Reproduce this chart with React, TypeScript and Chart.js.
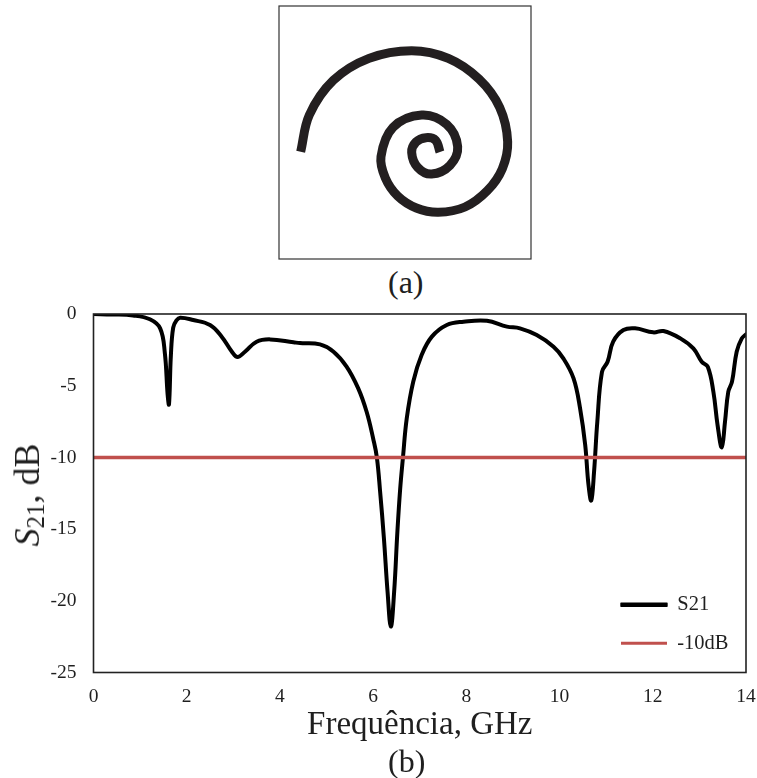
import React, { useEffect, useRef } from "react";
import { Chart, registerables } from "chart.js";

Chart.register(...registerables);

const SERIF = "'Liberation Serif', serif";
const INK = "#1f1f1f";

// Panel (b): S21 response
const frequencyGHz = [0, 0.4, 0.85, 1.21, 1.43, 1.53, 1.59, 1.62, 1.66, 1.71, 1.78, 1.86, 2.14, 2.5, 2.75, 2.97, 3.09, 3.25, 3.5, 3.79, 4.29, 4.43, 4.86, 5.15, 5.43, 5.68, 5.86, 6.0, 6.08, 6.15, 6.23, 6.31, 6.38, 6.45, 6.52, 6.58, 6.64, 6.72, 6.86, 7.04, 7.26, 7.58, 7.94, 8.44, 8.87, 9.15, 9.51, 9.87, 10.08, 10.3, 10.44, 10.55, 10.62, 10.68, 10.74, 10.81, 10.91, 11.03, 11.15, 11.37, 11.62, 12.01, 12.23, 12.59, 12.87, 13.05, 13.18, 13.3, 13.39, 13.48, 13.55, 13.62, 13.7, 13.8, 13.91, 14];
const s21dB = [0, -0.03, -0.1, -0.37, -1.0, -2.7, -5.6, -6.3, -2.9, -0.95, -0.45, -0.26, -0.42, -0.77, -1.58, -2.63, -3.0, -2.63, -1.93, -1.77, -1.97, -2.03, -2.12, -2.63, -3.67, -5.19, -6.82, -8.68, -10.0, -12.4, -15.6, -19.4, -21.8, -19.4, -15.2, -12.2, -10.0, -7.3, -4.72, -2.86, -1.58, -0.77, -0.54, -0.47, -0.88, -1.0, -1.47, -2.28, -3.09, -4.49, -6.58, -9.14, -11.9, -13.0, -11.0, -7.5, -4.03, -3.33, -1.93, -1.12, -1.0, -1.28, -1.19, -1.7, -2.4, -3.33, -3.68, -5.42, -7.75, -9.3, -7.5, -5.42, -4.72, -2.63, -1.7, -1.42];
const limitFrequencyGHz = [0, 14];
const limitdB = [-10, -10];
const xTicks = [0, 2, 4, 6, 8, 10, 12, 14];
const yTicks = [0, -5, -10, -15, -20, -25];

// Panel (a): spiral outline, read as picture units
const spiralX = [92, 118, 190, 297, 425, 535, 627, 689, 713, 697, 652, 585, 505, 439, 383, 346, 333, 369, 455, 530, 563, 540, 485, 443, 425, 438, 468, 497, 510];
const spiralY = [455, 345, 241, 175, 152, 175, 237, 322, 425, 506, 572, 621, 637, 624, 588, 534, 470, 382, 345, 373, 440, 496, 522, 502, 457, 426, 413, 421, 456];

const zip = (xs: number[], ys: number[]) => xs.map((x, i) => ({ x, y: ys[i] }));

const framePlugin = {
  id: "frame",
  afterDatasetsDraw(chart: any, _a: any, opts: any) {
    const { left, top, width, height } = chart.chartArea;
    const c = chart.ctx;
    c.save();
    c.strokeStyle = opts.color;
    c.lineWidth = opts.width;
    c.strokeRect(left, top, width, height);
    c.restore();
  },
};

const legendPlacement = {
  id: "legendPlacement",
  afterLayout(chart: any, _a: any, opts: any) {
    const lg = chart.legend;
    lg.left = opts.x;
    lg.top = opts.y;
    lg.right = chart.width;
    lg.bottom = chart.height;
  },
};

const label = (s: React.CSSProperties): React.CSSProperties => ({
  position: "absolute",
  fontFamily: SERIF,
  color: INK,
  whiteSpace: "nowrap",
  lineHeight: 1,
  ...s,
});

export default function App() {
  const spiralRef = useRef<HTMLCanvasElement>(null);
  const plotRef = useRef<HTMLCanvasElement>(null);

  useEffect(() => {
    const spiral = new Chart(spiralRef.current!, {
      type: "scatter",
      data: {
        datasets: [
          {
            data: zip(spiralX, spiralY),
            showLine: true,
            borderColor: "#231f20",
            borderWidth: 9,
            tension: 0.36,
            pointRadius: 0,
            borderCapStyle: "butt",
            borderJoinStyle: "round",
          } as any,
        ],
      },
      options: {
        animation: false,
        responsive: false,
        layout: { padding: 1 },
        plugins: { legend: { display: false }, tooltip: { enabled: false }, frame: { color: "#333", width: 1.2 } } as any,
        scales: {
          x: { type: "linear", display: false, min: 27, max: 783 },
          y: { type: "linear", display: false, min: 18, max: 777, reverse: true },
        },
      },
      plugins: [framePlugin],
    });

    const plot = new Chart(plotRef.current!, {
      type: "scatter",
      data: {
        datasets: [
          {
            label: "S21",
            data: zip(frequencyGHz, s21dB),
            showLine: true,
            borderColor: "#000000",
            backgroundColor: "#000000",
            borderWidth: 4,
            pointRadius: 0,
            tension: 0.4,
            borderCapStyle: "round",
            borderJoinStyle: "round",
            order: 2,
          } as any,
          {
            label: "-10dB",
            data: zip(limitFrequencyGHz, limitdB),
            showLine: true,
            borderColor: "#c0504d",
            backgroundColor: "#c0504d",
            borderWidth: 3.5,
            pointRadius: 0,
            order: 1,
          } as any,
        ],
      },
      options: {
        animation: false,
        responsive: false,
        layout: { padding: { top: 19, right: 11, bottom: 33, left: 0 } },
        plugins: {
          tooltip: { enabled: false },
          frame: { color: "#222", width: 1.6 },
          legendPlacement: { x: 603, y: 281.5 },
          legend: {
            position: "chartArea",
            align: "start",
            labels: {
              boxWidth: 46,
              boxHeight: 3,
              padding: 18,
              color: INK,
              font: { family: SERIF, size: 20.5 },
              sort: (a: any, b: any) => a.datasetIndex - b.datasetIndex,
              generateLabels: (c: any) =>
                Chart.defaults.plugins.legend.labels.generateLabels(c).map((it: any) => ({
                  ...it,
                  lineWidth: it.datasetIndex === 0 ? 1.4 : 0,
                })),
            },
          },
        } as any,
        scales: {
          x: {
            type: "linear",
            min: 0,
            max: 14,
            afterBuildTicks: (s: any) => {
              s.ticks = xTicks.map((value) => ({ value }));
            },
            afterFit: (s: any) => {
              s.height = 72.5;
              s.paddingLeft = 0;
              s.paddingRight = 0;
            },
            grid: { display: false, drawTicks: false },
            border: { display: false },
            ticks: { color: INK, padding: 13, maxRotation: 0, font: { family: SERIF, size: 19.5 } },
            title: {
              display: true,
              text: "Frequência, GHz",
              color: INK,
              font: { family: SERIF, size: 33 },
              padding: { top: 0, bottom: 0 },
            },
          },
          y: {
            type: "linear",
            min: -25,
            max: 0,
            afterBuildTicks: (s: any) => {
              s.ticks = yTicks.map((value) => ({ value }));
            },
            afterFit: (s: any) => {
              s.width = 93.5;
              s.paddingTop = 0;
              s.paddingBottom = 0;
            },
            grid: { display: false, drawTicks: false },
            border: { display: false },
            ticks: { color: INK, padding: 17, font: { family: SERIF, size: 19.5 } },
          },
        },
      },
      plugins: [framePlugin, legendPlacement],
    });

    return () => {
      spiral.destroy();
      plot.destroy();
    };
  }, []);

  return (
    <div style={{ position: "absolute", left: 0, top: 0, width: 757, height: 778, background: "#fff", overflow: "hidden" }}>
      <canvas ref={spiralRef} width={254} height={255} style={{ position: "absolute", left: 278, top: 5 }} />
      <div style={label({ left: 388, top: 266, fontSize: 32 })}>(a)</div>
      <canvas ref={plotRef} width={757} height={483} style={{ position: "absolute", left: 0, top: 295 }} />
      <div
        style={label({
          left: 27,
          top: 495,
          fontSize: 36,
          transform: "translate(-50%, -50%) rotate(-90deg)",
        })}
      >
        <i>S</i>
        <sub style={{ fontSize: 25, verticalAlign: "-5px", lineHeight: 0 }}>21</sub>, dB
      </div>
      <div style={label({ left: 388, top: 745, fontSize: 32 })}>(b)</div>
    </div>
  );
}
